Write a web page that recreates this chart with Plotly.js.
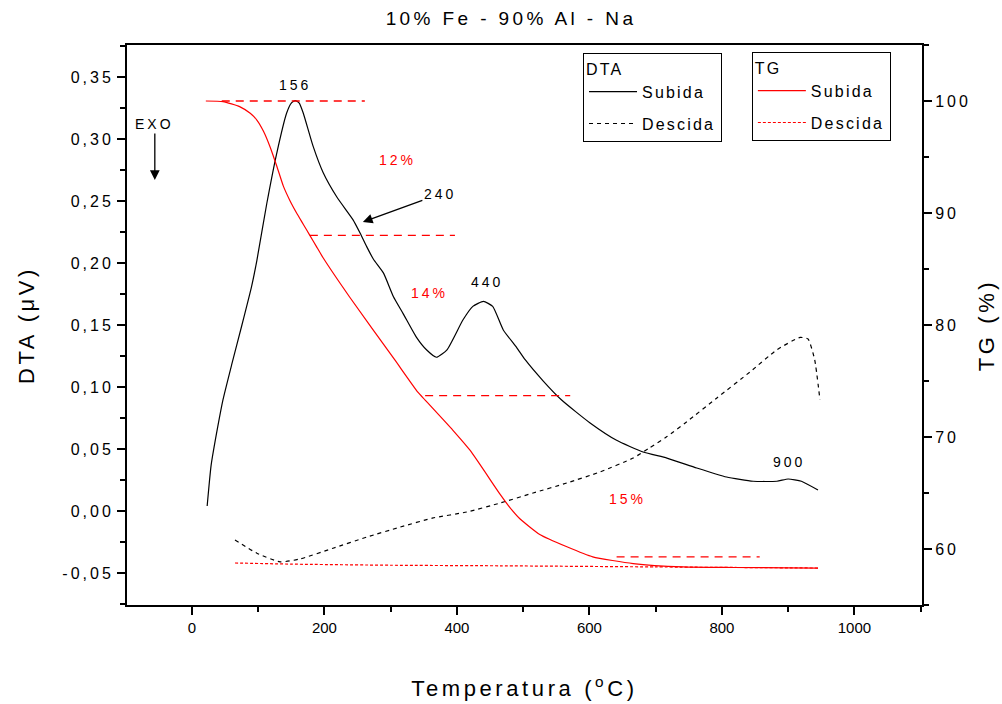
<!DOCTYPE html>
<html>
<head>
<meta charset="utf-8">
<script src="https://cdn.plot.ly/plotly-3.0.1.min.js"></script>
<style>
html,body{margin:0;padding:0;background:#fff}
#chart{width:1002px;height:704px}
text.gtitle{letter-spacing:3.4px}
text.xtitle,text.ytitle,text.y2title{letter-spacing:3.6px}
g.ytick text,g.y2tick text{letter-spacing:3px}
.annotation-text{letter-spacing:3px}
text[class*="legend"]{letter-spacing:2.2px}
</style>
</head>
<body>
<div id="chart"></div>
<script>
// DTA (heating) - Subida
const dtaUpT = [23, 29, 39, 47, 60, 75, 90, 98, 113, 128, 143, 150, 156, 162, 168, 183, 198, 219, 243, 254, 264, 274, 289, 304, 319, 339, 354, 369, 385, 409, 424, 440, 454, 470, 490, 503, 530, 558, 601, 641, 681, 717, 762, 807, 847, 883, 900, 920, 945];
const dtaUpV = [0.004, 0.037, 0.068, 0.09, 0.118, 0.149, 0.181, 0.202, 0.248, 0.2885, 0.321, 0.329, 0.331, 0.329, 0.321, 0.294, 0.273, 0.253, 0.235, 0.224, 0.213, 0.203, 0.192, 0.173, 0.159, 0.140, 0.130, 0.124, 0.130, 0.154, 0.165, 0.169, 0.165, 0.146, 0.132, 0.122, 0.105, 0.0895, 0.071, 0.057, 0.0476, 0.0427, 0.0347, 0.0274, 0.024, 0.024, 0.0258, 0.024, 0.0169];
// DTA (cooling) - Descida
const dtaDownT = [65, 98, 133, 163, 213, 264, 314, 364, 415, 465, 515, 566, 616, 666, 691, 717, 747, 792, 842, 883, 918, 930, 940, 948];
const dtaDownV = [-0.0234, -0.034, -0.041, -0.0387, -0.030, -0.021, -0.013, -0.0056, -0.0008, 0.0064, 0.0145, 0.0226, 0.0315, 0.0427, 0.051, 0.060, 0.072, 0.091, 0.112, 0.130, 0.140, 0.1387, 0.122, 0.0895];
// TG (heating) - Subida
const tgUpT = [21, 47, 72, 88, 98, 108, 118, 128, 138, 148, 158, 168, 178, 188, 198, 238, 306, 341, 352, 394, 420, 465, 480, 495, 525, 566, 605, 666, 741, 817, 945];
const tgUpV = [100, 99.94, 99.5, 98.9, 98.3, 97.3, 95.9, 94.2, 92.4, 91.1, 90.0, 89.0, 88.0, 87.0, 86.0, 82.5, 76.9, 74.0, 73.3, 70.6, 68.8, 64.9, 63.7, 62.7, 61.3, 60.2, 59.3, 58.7, 58.4, 58.35, 58.3];
// TG (cooling) - Descida
const tgDownT = [65, 150, 300, 465, 700, 945];
const tgDownV = [58.75, 58.65, 58.55, 58.5, 58.4, 58.3];
// Mass-loss step levels (dashed red)
const stepLevels = [100, 88, 73.7, 59.3];
const stepStart = [45, 178, 352, 641];
const stepEnd = [261, 397, 571, 857];
// Labels
const peakLabels = ['156', '440', '900'];
const peakT = [155.5, 445, 901];
const peakV = [0.3435, 0.1847, 0.0395];
const lossLabels = ['12%', '14%', '15%'];
const lossT = [311, 358, 657];
const lossV = [0.283, 0.1758, 0.0097];
const yTicks = [-0.05, 0, 0.05, 0.10, 0.15, 0.20, 0.25, 0.30, 0.35];
const yTickText = ['-0,05', '0,00', '0,05', '0,10', '0,15', '0,20', '0,25', '0,30', '0,35'];

const FONT = 'Liberation Sans, Arial, sans-serif';

const stepX = [], stepY = [];
stepLevels.forEach((lv, i) => { stepX.push(stepStart[i], stepEnd[i], null); stepY.push(lv, lv, null); });

const traces = [
  {x: dtaUpT, y: dtaUpV, name: 'Subida', mode: 'lines', line: {color: '#000', width: 1.2, shape: 'spline', smoothing: 0.5}, legend: 'legend', legendgroup: 'a', yaxis: 'y'},
  {x: dtaDownT, y: dtaDownV, name: 'Descida', mode: 'lines', line: {color: '#000', width: 1.2, dash: '4px,4px', shape: 'spline', smoothing: 0.5}, legend: 'legend', legendgroup: 'b', yaxis: 'y'},
  {x: tgUpT, y: tgUpV, name: 'Subida', mode: 'lines', line: {color: '#ff0000', width: 1.2, shape: 'spline', smoothing: 0.5}, legend: 'legend2', legendgroup: 'c', yaxis: 'y2'},
  {x: tgDownT, y: tgDownV, name: 'Descida', mode: 'lines', line: {color: '#ff0000', width: 1.2, dash: '3px,2px', shape: 'spline', smoothing: 0.5}, legend: 'legend2', legendgroup: 'd', yaxis: 'y2'},
  {x: stepX, y: stepY, mode: 'lines', showlegend: false, hoverinfo: 'skip', line: {color: '#ff0000', width: 1.3, dash: '8px,6px'}, yaxis: 'y2'}
];

const annotations = [];
peakLabels.forEach((t, i) => annotations.push({x: peakT[i], y: peakV[i], xref: 'x', yref: 'y', text: t, showarrow: false, font: {family: FONT, size: 14, color: '#000'}}));
lossLabels.forEach((t, i) => annotations.push({x: lossT[i], y: lossV[i], xref: 'x', yref: 'y', text: t, showarrow: false, font: {family: FONT, size: 14, color: '#ff0000'}}));
// "240" label with its arrow pointing at the shoulder
annotations.push({x: 258, y: 0.233, xref: 'x', yref: 'y', text: '240', showarrow: true, ax: 77, ay: -28, arrowhead: 2, arrowsize: 1.5, arrowwidth: 1.3, arrowcolor: '#000', font: {family: FONT, size: 14, color: '#000'}});
// "EXO" label with downward arrow
annotations.push({x: -56, y: 0.267, xref: 'x', yref: 'y', text: 'EXO', showarrow: true, ax: 0, ay: -56, arrowhead: 2, arrowsize: 1.5, arrowwidth: 1.3, arrowcolor: '#000', font: {family: FONT, size: 14, color: '#000'}});

const axisCommon = {showgrid: false, zeroline: false, showline: true, linecolor: '#000', linewidth: 2, ticks: 'outside', ticklen: 8, tickwidth: 2, tickcolor: '#000', tickfont: {family: FONT, size: 16, color: '#000'}};

const layout = {
  width: 1002, height: 704,
  paper_bgcolor: '#fff', plot_bgcolor: '#fff',
  margin: {l: 127, r: 80, t: 45, b: 99},
  title: {text: '10% Fe - 90% Al - Na', font: {family: FONT, size: 19, color: '#000'}, x: 0.51, xref: 'container', xanchor: 'center', y: 0.9744, yref: 'container', yanchor: 'middle'},
  xaxis: Object.assign({}, axisCommon, {
    range: [-98, 1102], tickmode: 'linear', tick0: 0, dtick: 200, mirror: true,
    tickfont: {family: FONT, size: 15, color: '#000'},
    minor: {tickmode: 'linear', tick0: 0, dtick: 100, ticklen: 5, tickwidth: 2, tickcolor: '#000', ticks: 'outside'},
    title: {text: 'Temperatura (<sup>o</sup>C)', font: {family: FONT, size: 22, color: '#000'}, standoff: 46}
  }),
  yaxis: Object.assign({}, axisCommon, {
    range: [-0.0758, 0.3758], tickmode: 'array', tickvals: yTicks, ticktext: yTickText,
    minor: {tickmode: 'linear', tick0: 0, dtick: 0.025, ticklen: 5, tickwidth: 2, tickcolor: '#000', ticks: 'outside'},
    title: {text: 'DTA (μV)', font: {family: FONT, size: 22, color: '#000'}, standoff: 22}
  }),
  yaxis2: Object.assign({}, axisCommon, {
    range: [55, 105], overlaying: 'y', side: 'right', tickmode: 'linear', tick0: 60, dtick: 10,
    minor: {tickmode: 'linear', tick0: 55, dtick: 5, ticklen: 5, tickwidth: 2, tickcolor: '#000', ticks: 'outside'},
    title: {text: 'TG (%)', font: {family: FONT, size: 22, color: '#000'}, standoff: 9}
  }),
  legend: {x: 0.5736, y: 0.9857, xanchor: 'left', yanchor: 'top', bordercolor: '#000', borderwidth: 1, bgcolor: '#fff', tracegroupgap: 8, itemwidth: 48,
    font: {family: FONT, size: 16, color: '#000'}, title: {text: 'DTA', side: 'top', font: {family: FONT, size: 16, color: '#000'}}},
  legend2: {x: 0.786, y: 0.9875, xanchor: 'left', yanchor: 'top', bordercolor: '#000', borderwidth: 1, bgcolor: '#fff', tracegroupgap: 8, itemwidth: 48,
    font: {family: FONT, size: 16, color: '#000'}, title: {text: 'TG', side: 'top', font: {family: FONT, size: 16, color: '#000'}}},
  annotations: annotations,
  showlegend: true
};

Plotly.newPlot('chart', traces, layout, {displayModeBar: false, staticPlot: true});
</script>
</body>
</html>
